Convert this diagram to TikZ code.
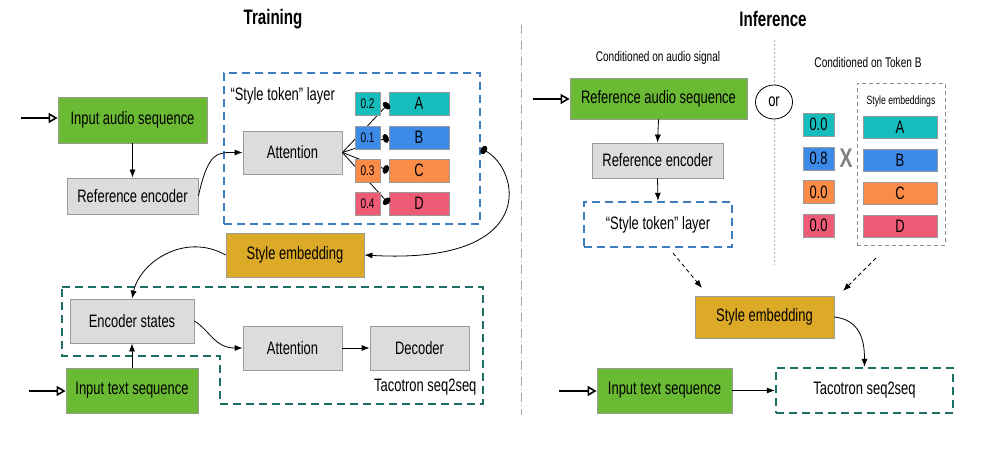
\documentclass[tikz,border=0pt]{standalone}
\usepackage{fontspec}
\setmainfont{Liberation Sans}[FakeStretch=0.72]
\usetikzlibrary{arrows.meta,shapes.geometric,calc}
\definecolor{cgreen}{HTML}{6ABA34}
\definecolor{cgray}{HTML}{DCDCDC}
\definecolor{cgold}{HTML}{DDAA28}
\definecolor{bordergray}{HTML}{9A9A9A}
\definecolor{ccyan}{HTML}{17BDBD}
\definecolor{cblue}{HTML}{3D8BE8}
\definecolor{corange}{HTML}{FA8C47}
\definecolor{cpink}{HTML}{EE5B76}
\definecolor{dblue}{HTML}{3E7DBF}
\definecolor{dteal}{HTML}{1E6E68}
\definecolor{xgray}{HTML}{808080}
\begin{document}
\begin{tikzpicture}[x=1pt,y=-1pt,
  font=\fontsize{18}{20}\selectfont,
  box/.style={draw=bordergray, line width=0.8pt, inner sep=0pt, anchor=center},
  greenbox/.style={box, fill=cgreen},
  graybox/.style={box, fill=cgray},
  goldbox/.style={box, fill=cgold},
  wbox/.style={box, font=\fontsize{14}{15}\selectfont},
  tbox/.style={box},
  bluedash/.style={draw=dblue, line width=2.4pt, dash pattern=on 8pt off 5pt, inner sep=0pt},
  tealdash/.style={draw=dteal, line width=2.4pt, dash pattern=on 8pt off 5pt},
  conn/.style={line width=0.8pt, -{Latex[length=8pt,width=6pt]}},
  inarrow/.style={line width=2.3pt, -{Triangle[open,length=9pt,width=10pt,line width=1.6pt]}},
  dotline/.style={line width=0.8pt, -{Circle[length=6pt,width=9pt]}},
  dasharrow/.style={line width=0.8pt, dash pattern=on 4pt off 3pt, -{Latex[length=8pt,width=6pt]}},
  title/.style={font=\fontsize{21}{24}\selectfont\bfseries},
  small/.style={font=\fontsize{14}{16}\selectfont},
]
\useasboundingbox (0,0) rectangle (1008,449);
\fill[white] (0,0) rectangle (1008,449);

% titles and dividers
\node[title] (ttrain) at (273,19) {Training};
\node[title] (tinf) at (773,19) {Inference};
\draw[black!35, line width=0.8pt, dash pattern=on 9pt off 3pt on 1pt off 3pt] (521,25) -- (521,415);
\draw[black!30, line width=0.8pt, dash pattern=on 2pt off 2pt] (774,40) -- (774,265);

% ---------- Training ----------
\node[bluedash, minimum width=256, minimum height=151] (stl) at (352,148.5) {};
\node[anchor=west] (stltext) at (227,96) {“Style token” layer};
\node[greenbox, minimum width=149, minimum height=46] (ias) at (132.5,120) {Input audio sequence};
\node[graybox, minimum width=131, minimum height=36] (re) at (132.5,196) {Reference encoder};
\node[graybox, minimum width=99, minimum height=43] (att) at (292.5,152.5) {Attention};

\node[tbox, fill=ccyan, minimum width=60, minimum height=23] (tA) at (419,103.5) {A};
\node[tbox, fill=cblue, minimum width=60, minimum height=23] (tB) at (419,137.5) {B};
\node[tbox, fill=corange, minimum width=60, minimum height=23] (tC) at (419,170.5) {C};
\node[tbox, fill=cpink, minimum width=60, minimum height=23] (tD) at (419,203.5) {D};
\draw[dotline] (att.east) -- (tA.west);
\draw[dotline] (att.east) -- (tB.west);
\draw[dotline] (att.east) -- (tC.west);
\draw[dotline] (att.east) -- (tD.west);
\node[wbox, fill=ccyan, minimum width=25, minimum height=23] (wA) at (367.5,103.5) {0.2};
\node[wbox, fill=cblue, minimum width=25, minimum height=23] (wB) at (367.5,138) {0.1};
\node[wbox, fill=corange, minimum width=25, minimum height=23] (wC) at (367.5,171) {0.3};
\node[wbox, fill=cpink, minimum width=25, minimum height=23] (wD) at (367.5,204) {0.4};

\node[goldbox, minimum width=138, minimum height=44] (se) at (295,255) {Style embedding};

\draw[tealdash] (62,287) -- (483,287) -- (483,404) -- (220,404) -- (220,356) -- (62,356) -- cycle;
\node[graybox, minimum width=124, minimum height=44] (es) at (132,321) {Encoder states};
\node[graybox, minimum width=99, minimum height=44] (att2) at (292.5,348) {Attention};
\node[graybox, minimum width=99, minimum height=44] (dec) at (419.5,348) {Decoder};
\node[anchor=east] (tacl) at (480,387) {Tacotron seq2seq};
\node[greenbox, minimum width=132, minimum height=45] (its) at (132,390.5) {Input text sequence};

\coordinate (in1) at (21,118);
\coordinate (in2) at (29,391);
\draw[inarrow] (in1) -- (ias.west |- in1);
\draw[inarrow] (in2) -- (its.west |- in2);
\draw[conn] (ias.south) -- (re.north);
\draw[conn] (re.east) .. controls +(10,-45) and +(-25,0) .. (att.west);
\draw[line width=0.8pt, {Circle[length=6pt,width=9pt]}-{Latex[length=8pt,width=6pt]}] (stl.east) .. controls (520,170) and (540,265) .. (se.east);
\draw[conn] (se.west) .. controls (185,232) and (140,262) .. (es.north);
\draw[conn] (its.north) -- (es.south);
\draw[conn] (es.east) .. controls +(16,10) and +(-28,0) .. (att2.west);
\draw[conn] (att2.east) -- (dec.west);

% ---------- Inference ----------
\node[small] (cas) at (658,58) {Conditioned on audio signal};
\node[small] (ctb) at (868,62) {Conditioned on Token B};
\node[greenbox, minimum width=177, minimum height=41] (ras) at (658.5,98.5) {Reference audio sequence};
\node[graybox, minimum width=131, minimum height=35] (re2) at (657.5,160.5) {Reference encoder};
\node[bluedash, minimum width=148, minimum height=45] (stl2) at (658,224.5) {“Style token” layer};
\node[ellipse, draw=black, line width=0.8pt, fill=white, minimum width=37, minimum height=34, inner sep=0pt] (or) at (774,102) {or};

\node[draw=black!45, line width=0.8pt, dash pattern=on 4pt off 3pt, minimum width=88, minimum height=162, inner sep=0pt] (seb) at (901,164) {};
\node[font=\fontsize{12}{14}\selectfont] (sebl) at (901,101) {Style embeddings};
\node[box, fill=ccyan, minimum width=31, minimum height=23] (vA) at (818.5,124.5) {0.0};
\node[box, fill=cblue, minimum width=31, minimum height=23] (vB) at (818.5,158.5) {0.8};
\node[box, fill=corange, minimum width=31, minimum height=23] (vC) at (818.5,192) {0.0};
\node[box, fill=cpink, minimum width=31, minimum height=23] (vD) at (818.5,225.5) {0.0};
\node[text=xgray, font=\fontsize{27}{28}\selectfont\bfseries] (xm) at (846,158) {X};
\node[tbox, fill=ccyan, minimum width=74, minimum height=22] (uA) at (900,127) {A};
\node[tbox, fill=cblue, minimum width=74, minimum height=22] (uB) at (900,160) {B};
\node[tbox, fill=corange, minimum width=74, minimum height=22] (uC) at (900,193) {C};
\node[tbox, fill=cpink, minimum width=74, minimum height=22] (uD) at (900,226) {D};

\node[goldbox, minimum width=139, minimum height=42] (se2) at (764.5,317) {Style embedding};
\node[greenbox, minimum width=135, minimum height=45] (its2) at (664.5,390.5) {Input text sequence};
\node[draw=dteal, line width=2.4pt, dash pattern=on 8pt off 5pt, minimum width=177, minimum height=45, inner sep=0pt] (tac2) at (864.5,390.5) {Tacotron seq2seq};

\coordinate (in3) at (533,99);
\coordinate (in4) at (559,391);
\coordinate (d1s) at (673,253);
\coordinate (d1e) at (702,288);
\coordinate (d2s) at (876,258);
\coordinate (d2e) at (843,291);
\draw[inarrow] (in3) -- (ras.west |- in3);
\draw[inarrow] (in4) -- (its2.west |- in4);
\draw[conn] (ras.south) -- (re2.north);
\draw[conn] (re2.south) -- (stl2.north);
\draw[dasharrow] (d1s) -- (d1e);
\draw[dasharrow] (d2s) -- (d2e);
\draw[conn] (its2.east) -- (tac2.west);
\draw[conn] (se2.east) .. controls +(25,3) and +(0,-28) .. (tac2.north);
\end{tikzpicture}
\end{document}
